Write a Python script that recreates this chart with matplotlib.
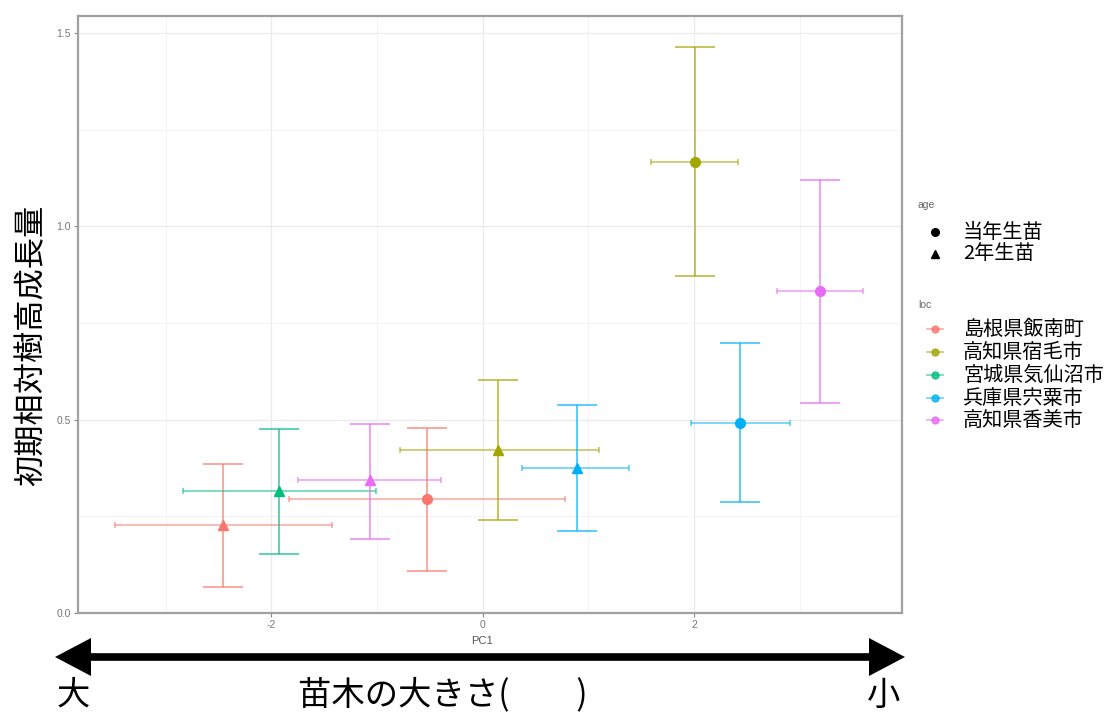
import matplotlib
matplotlib.use("Agg")
import matplotlib.pyplot as plt
from matplotlib.lines import Line2D
from matplotlib.patches import Polygon

plt.rcParams['font.family'] = ['Noto Sans CJK JP', 'DejaVu Sans']

W, H = 1114, 713

loc_names = ['島根県飯南町', '高知県宿毛市', '宮城県気仙沼市', '兵庫県宍粟市', '高知県香美市']
loc_colors = ['#F8766D', '#A3A500', '#00BF7D', '#00B0F6', '#E76BF3']
age_names = ['当年生苗', '2年生苗']
age_markers = ['o', '^']

# one entry per site x age group
pt_loc = ['島根県飯南町', '高知県宿毛市', '兵庫県宍粟市', '高知県香美市',
          '島根県飯南町', '高知県宿毛市', '宮城県気仙沼市', '兵庫県宍粟市', '高知県香美市']
pt_age = ['当年生苗', '当年生苗', '当年生苗', '当年生苗',
          '2年生苗', '2年生苗', '2年生苗', '2年生苗', '2年生苗']
pc1 = [-0.53, 2.01, 2.44, 3.19, -2.46, 0.15, -1.93, 0.89, -1.07]
pc1_lo = [-1.83, 1.59, 1.97, 2.79, -3.48, -0.78, -2.84, 0.37, -1.75]
pc1_hi = [0.78, 2.42, 2.91, 3.60, -1.43, 1.10, -1.01, 1.39, -0.39]
growth = [0.295, 1.167, 0.492, 0.833, 0.228, 0.422, 0.316, 0.375, 0.344]
growth_lo = [0.108, 0.872, 0.286, 0.543, 0.068, 0.241, 0.153, 0.211, 0.191]
growth_hi = [0.478, 1.465, 0.698, 1.119, 0.386, 0.603, 0.476, 0.538, 0.489]

x_ticks = [-2, 0, 2]
y_ticks = [0.0, 0.5, 1.0, 1.5]


def fx(px):
    return px / W


def fy(py):
    return 1 - py / H


fig = plt.figure(figsize=(W / 100, H / 100), dpi=100)
ax = fig.add_axes([fx(78), fy(613), fx(902) - fx(78), fy(16) - fy(613)])

for i in range(len(pc1)):
    col = loc_colors[loc_names.index(pt_loc[i])]
    mk = age_markers[age_names.index(pt_age[i])]
    x, y = pc1[i], growth[i]
    ax.errorbar([x], [y], yerr=[[y - growth_lo[i]], [growth_hi[i] - y]],
                fmt='none', ecolor=col, elinewidth=1.2, capsize=14.4,
                capthick=1.2, alpha=0.75, zorder=3)
    ax.errorbar([x], [y], xerr=[[x - pc1_lo[i]], [pc1_hi[i] - x]],
                fmt='none', ecolor=col, elinewidth=1.2, capsize=2.5,
                capthick=1.2, alpha=0.6, zorder=3)
    ax.plot([x], [y], marker=mk, color=col, ms=7, ls='none', zorder=4)

ax.set_xlim(-3.83, 3.97)
ax.set_ylim(0, 1.544)
ax.set_xticks(x_ticks)
ax.set_xticklabels([str(t) for t in x_ticks])
ax.set_yticks(y_ticks)
ax.set_yticklabels([f'{t:.1f}' for t in y_ticks])
ax.set_xticks([-3, -1, 1, 3], minor=True)
ax.set_yticks([0.25, 0.75, 1.25], minor=True)
ax.grid(True, which='major', color='#ebebeb', lw=0.9)
ax.grid(True, which='minor', color='#f3f3f3', lw=0.6)
ax.set_axisbelow(True)
ax.tick_params(which='major', length=3, width=0.8, color='#888888',
               labelsize=7.5, labelcolor='#777777', pad=2)
ax.tick_params(which='minor', length=0)
for lab in ax.get_xticklabels() + ax.get_yticklabels():
    lab.set_family('Liberation Sans')
for sp in ax.spines.values():
    sp.set_color('#a0a0a0')
    sp.set_linewidth(1.6)

fig.text(fx(482), fy(641), 'PC1', ha='center', va='center', fontsize=8,
         color='#555555', family='Liberation Sans')
fig.text(fx(31), fy(345), '初期相対樹高成長量', rotation=90, ha='center',
         va='center', fontsize=22.5, color='black')

# legend for age and loc, laid out by hand
fig.text(fx(918), fy(205), 'age', ha='left', va='center', fontsize=7.5,
         color='#666666', family='Liberation Sans')
age_y = [232, 254]
for name, mk, yy in zip(age_names, age_markers, age_y):
    fig.add_artist(Line2D([fx(935)], [fy(yy)], marker=mk, color='black',
                          ms=5.5, ls='none'))
    fig.text(fx(963), fy(yy), name, ha='left', va='center', fontsize=14.5)

fig.text(fx(918), fy(305), 'loc', ha='left', va='center', fontsize=7.5,
         color='#666666', family='Liberation Sans')
loc_y = [329, 352, 375, 398, 420]
for name, col, yy in zip(loc_names, loc_colors, loc_y):
    fig.add_artist(Line2D([fx(927), fx(943)], [fy(yy), fy(yy)], color=col,
                          lw=1.2, alpha=0.6))
    fig.add_artist(Line2D([fx(935)], [fy(yy)], marker='o', color=col,
                          ms=5, ls='none', alpha=0.8))
    fig.text(fx(963), fy(yy), name, ha='left', va='center', fontsize=14.5)

# size scale arrow under the x axis: shaft plus two solid heads
ay, head_len, head_half = 657, 36, 19
left_tip, right_tip = 55, 905
fig.add_artist(Line2D([fx(left_tip + head_len - 2), fx(right_tip - head_len + 2)],
                      [fy(ay), fy(ay)], color='black', lw=5.5,
                      solid_capstyle='butt'))
fig.add_artist(Polygon([(fx(left_tip), fy(ay)),
                        (fx(left_tip + head_len), fy(ay - head_half)),
                        (fx(left_tip + head_len), fy(ay + head_half))],
                       closed=True, facecolor='black', edgecolor='none',
                       transform=fig.transFigure))
fig.add_artist(Polygon([(fx(right_tip), fy(ay)),
                        (fx(right_tip - head_len), fy(ay - head_half)),
                        (fx(right_tip - head_len), fy(ay + head_half))],
                       closed=True, facecolor='black', edgecolor='none',
                       transform=fig.transFigure))

fig.text(fx(73), fy(695), '大', ha='center', va='center', fontsize=24)
fig.text(fx(298), fy(695), '苗木の大きさ(　　)', ha='left', va='center',
         fontsize=24)
fig.text(fx(884), fy(695), '小', ha='center', va='center', fontsize=24)

fig.savefig('out.png', dpi=100, facecolor='white')
